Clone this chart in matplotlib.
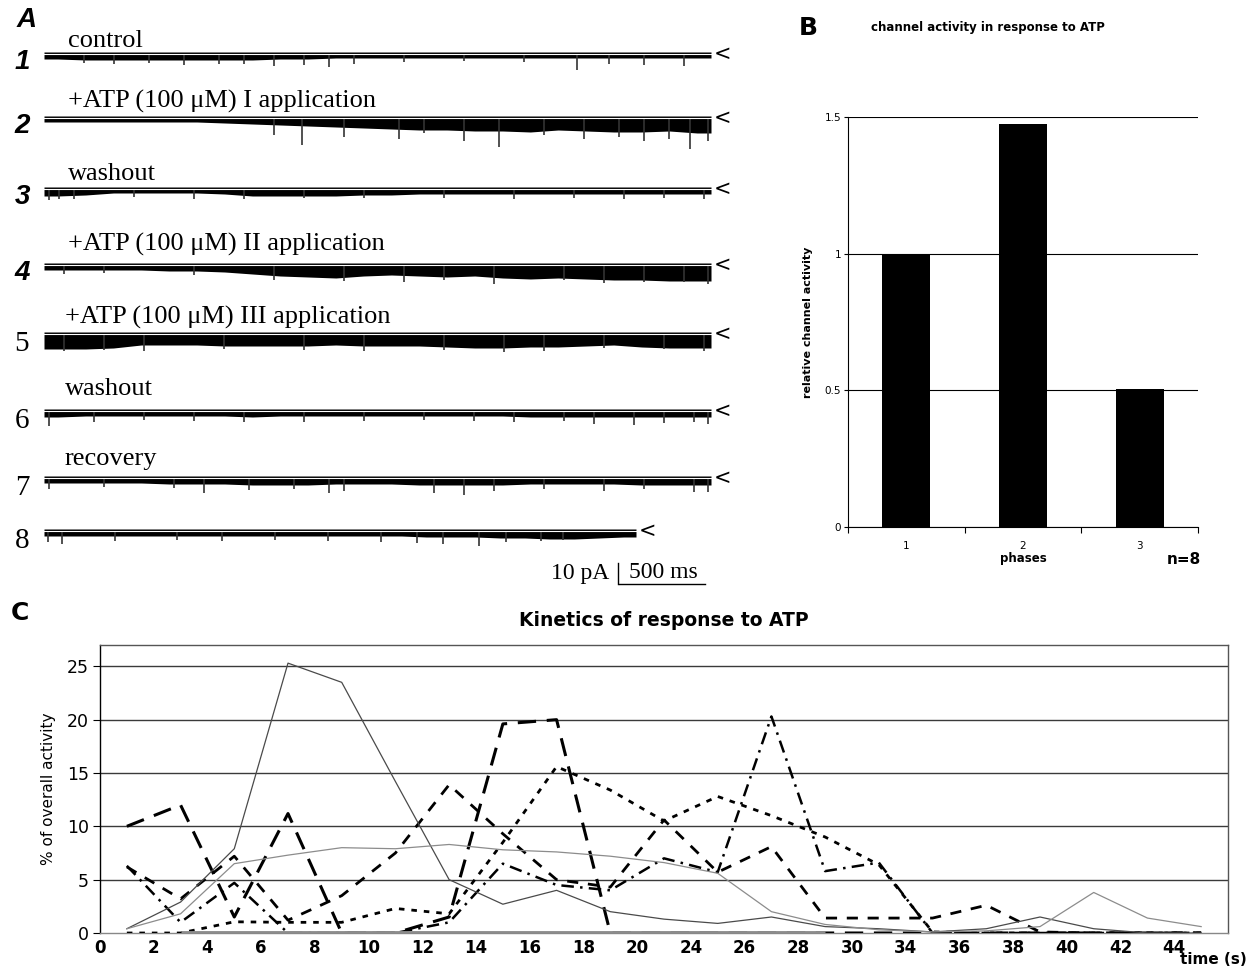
import numpy as np
import matplotlib.pyplot as plt

# ---------------- data ----------------
# panel A: single-channel traces (depth of the opening band in pA-ish px, and deeper spikes)
trace_names = ["control", "+ATP (100 \u03bcM) I application", "washout",
               "+ATP (100 \u03bcM) II application", "+ATP (100 \u03bcM) III application",
               "washout", "recovery", ""]
row_numbers = ["1", "2", "3", "4", "5", "6", "7", "8"]
band_depth = [
    [4, 5, 5, 5, 5, 5, 5, 5, 4, 4, 3, 3, 3, 3, 3, 3, 3, 3, 3, 3, 3, 3, 3, 3],
    [3, 3, 3, 3, 3, 3, 4, 5, 6, 7, 8, 9, 10, 11, 11, 12, 12, 13, 11, 12, 13, 13, 12, 14],
    [6, 5, 3, 3, 3, 3, 4, 6, 6, 6, 6, 5, 5, 4, 4, 4, 4, 4, 4, 4, 4, 4, 4, 4],
    [4, 4, 4, 4, 5, 5, 6, 8, 10, 11, 12, 10, 9, 10, 11, 10, 12, 13, 12, 13, 14, 14, 15, 15],
    [14, 14, 13, 10, 10, 10, 11, 11, 11, 11, 10, 11, 11, 11, 12, 13, 13, 12, 12, 11, 10, 12, 13, 13],
    [5, 4, 4, 4, 4, 4, 4, 5, 4, 4, 4, 4, 4, 4, 4, 4, 4, 5, 5, 5, 5, 5, 5, 5],
    [4, 4, 4, 4, 5, 5, 5, 6, 6, 6, 5, 5, 5, 6, 6, 6, 6, 5, 5, 5, 5, 6, 6, 6],
    [4, 4, 4, 4, 4, 4, 4, 4, 4, 4, 4, 4, 4, 4, 4, 5, 5, 5, 6, 6, 7, 7, 6, 5],
]
spikes = [
    [(40, 8), (70, 9), (105, 8), (140, 10), (175, 9), (200, 9), (230, 11), (260, 10), (285, 12),
     (310, 9), (360, 7), (420, 6), (480, 7), (533, 15), (565, 9), (600, 10), (640, 11)],
    [(230, 16), (258, 26), (300, 18), (355, 20), (380, 14), (420, 22), (455, 28), (500, 16),
     (540, 20), (575, 18), (600, 22), (625, 20), (646, 30), (664, 22)],
    [(5, 10), (15, 9), (30, 9), (90, 7), (150, 9), (200, 9), (260, 8), (320, 8), (400, 8),
     (470, 9), (530, 8), (580, 9), (620, 8), (660, 9)],
    [(20, 8), (60, 7), (150, 9), (230, 14), (300, 15), (360, 16), (400, 14), (450, 18),
     (520, 14), (560, 17), (600, 16), (640, 16), (664, 18)],
    [(20, 16), (60, 15), (100, 16), (180, 14), (260, 15), (320, 16), (400, 15), (460, 17),
     (500, 16), (560, 13), (620, 14), (660, 16)],
    [(5, 14), (50, 10), (100, 8), (150, 9), (200, 10), (260, 10), (320, 9), (380, 8), (430, 9),
     (470, 10), (520, 9), (550, 12), (590, 13), (620, 11), (650, 10), (664, 12)],
    [(5, 10), (60, 8), (130, 9), (160, 14), (205, 11), (250, 10), (285, 14), (300, 12), (390, 14),
     (420, 16), (450, 12), (500, 10), (560, 12), (600, 10), (650, 13), (664, 13)],
    [(5, 10), (20, 12), (80, 9), (150, 8), (200, 9), (260, 8), (320, 9), (380, 10), (420, 11),
     (450, 12), (490, 14), (520, 10), (560, 9), (585, 8)],
]

# panel B
phases = ["1", "2", "3"]
rel_activity = [1.0, 1.474, 0.505]

# panel C (one sample every other category slot)
time_labels = ["0", "2", "4", "6", "8", "10", "12", "14", "16", "18", "20",
               "24", "26", "28", "30", "34", "36", "38", "40", "42", "44"]
cell1 = [0.4, 2.9, 7.9, 25.3, 23.5, 14.2, 5.0, 2.7, 4.0, 2.0, 1.3, 0.9, 1.5, 0.6, 0.4, 0.1, 0.4, 1.5, 0.4, 0.0, 0.0]
cell2 = [0.4, 1.8, 6.5, 7.3, 8.0, 7.9, 8.3, 7.8, 7.6, 7.2, 6.6, 5.6, 2.0, 0.8, 0.3, 0.1, 0.2, 0.6, 3.8, 1.4, 0.6]
cell3 = [10.0, 12.0, 1.5, 11.2, 0, 0, 1.5, 19.6, 20.0, 0, 0, 0, 0, 0, 0, 0, 0, 0, 0, 0, 0]
cell4 = [6.2, 3.2, 7.2, 1.2, 3.5, 7.5, 13.9, 9.3, 5.0, 4.3, 10.6, 5.7, 8.1, 1.4, 1.4, 1.4, 2.6, 0.1, 0, 0, 0]
cell5 = [0, 0, 1.05, 1.0, 1.0, 2.3, 1.8, 8.5, 15.6, 13.4, 10.5, 12.8, 11.0, 9.0, 6.4, 0.1, 0, 0, 0, 0, 0]
cell6 = [6.3, 1.0, 4.7, 0, 0, 0, 1.0, 6.5, 4.5, 4.0, 7.0, 5.7, 20.3, 5.8, 6.6, 0, 0, 0, 0, 0, 0]
cell7 = [np.nan, 0, 0, 0, 0, 0, 0, 0, 0, 0, 0, 0, 0, 0, np.nan, np.nan, np.nan, np.nan, np.nan, np.nan, np.nan]

# ---------------- figure ----------------
fig = plt.figure(figsize=(12.55, 9.68), dpi=100)

# overlay in pixel coordinates for panel A and the panel letters
ov = fig.add_axes([0, 0, 1, 1])
ov.set_xlim(0, 1255)
ov.set_ylim(968, 0)
ov.axis("off")

baselines = [55, 119, 190, 266, 335, 412, 479, 532]
label_y = [41, 101, 174, 244, 317, 389, 459, None]
x0 = 44
ends = [711, 711, 711, 711, 711, 711, 711, 636]
serif = ["Liberation Serif", "DejaVu Serif"]
sans = ["Liberation Sans", "DejaVu Sans"]

for i in range(8):
    base = baselines[i]
    d = np.array(band_depth[i], dtype=float)
    edges = np.linspace(x0, ends[i], len(d) + 1)
    centers = (edges[:-1] + edges[1:]) / 2
    xs = np.concatenate([[x0], centers, [ends[i]]])
    ys = np.concatenate([[d[0]], d, [d[-1]]])
    ov.fill_between(xs, base - 3, base + ys, color="black", lw=0)
    sx = [x0 + s[0] * (ends[i] - x0) / 667 for s in spikes[i]]
    sd = [base + s[1] for s in spikes[i]]
    ov.vlines(sx, base, sd, color="#333333", lw=1.2)
    ov.plot([x0, ends[i]], [base - 1, base - 1], color="white", lw=0.8)
    ov.text(ends[i] + 3, base - 1, "<", fontsize=15, va="center", ha="left", family=["DejaVu Sans"])
    if trace_names[i]:
        ov.text(68 if i < 4 else 65, label_y[i], trace_names[i], fontsize=19, family=serif,
                va="center", ha="left")
    if i < 4:
        ov.text(22, base + 7, row_numbers[i], fontsize=20, fontweight="bold", style="italic",
                ha="center", va="center", family=sans)
    else:
        ov.text(22, base + 9, row_numbers[i], fontsize=21, family=serif, ha="center", va="center")

ov.text(27, 20, "A", fontsize=20, fontweight="bold", style="italic", ha="center", va="center",
        family=sans)
# scale bar
ov.text(580, 574, "10 pA", fontsize=17, family=serif, ha="center", va="center")
ov.plot([618, 618], [563, 584], color="black", lw=1)
ov.plot([619, 705], [584, 584], color="black", lw=1)
ov.text(663, 573, "500 ms", fontsize=17, family=serif, ha="center", va="center")

ov.text(808, 28, "B", fontsize=18, fontweight="bold", ha="center", va="center")
ov.text(20, 613, "C", fontsize=18, fontweight="bold", ha="center", va="center")

# ---------------- panel B ----------------
axb = fig.add_axes([848 / 1255, (968 - 527) / 968, 350 / 1255, 410 / 968])
xb = np.arange(len(phases))
axb.bar(xb, rel_activity, width=0.41, color="black", zorder=3)
axb.set_xlim(-0.5, 2.5)
axb.set_ylim(0, 1.5)
axb.set_yticks([0, 0.5, 1, 1.5])
axb.set_yticklabels(["0", "0.5", "1", "1.5"], fontsize=7.5)
axb.set_xticks(xb)
axb.set_xticklabels(phases, fontsize=7.5)
axb.set_xticks([-0.5, 0.5, 1.5, 2.5], minor=True)
axb.tick_params(axis="x", which="major", length=0, pad=10)
axb.tick_params(axis="x", which="minor", length=4, width=0.8)
axb.tick_params(axis="y", length=3, width=0.8, pad=2)
axb.yaxis.grid(True, color="black", lw=0.8, zorder=0)
for s in ["top", "right"]:
    axb.spines[s].set_visible(False)
axb.spines["left"].set_linewidth(0.8)
axb.spines["bottom"].set_linewidth(0.8)
axb.set_xlabel("phases", fontsize=8.5, fontweight="bold", labelpad=1)
axb.set_ylabel("relative channel activity", fontsize=8, fontweight="bold", labelpad=8)
axb.text(2.38, -0.12, "n=8", fontsize=11, fontweight="bold", ha="center", va="center",
         transform=axb.transData)
fig.text(988 / 1255, 1 - 27 / 968, "channel activity in response to ATP", fontsize=8.5,
         fontweight="bold", ha="center", va="center")

# ---------------- panel C ----------------
axc = fig.add_axes([100 / 1255, (968 - 933) / 968, 1128 / 1255, 288 / 968])
xc = 2 * np.arange(len(cell1)) + 1
axc.plot(xc, cell1, color="#4a4a4a", lw=0.9, zorder=4)
axc.plot(xc, cell2, color="#8c8c8c", lw=0.9, zorder=4)
axc.plot(xc, cell3, color="black", lw=2.2, dashes=(6, 3.5), zorder=3)
axc.plot(xc, cell4, color="black", lw=2.0, dashes=(4, 3.5), zorder=3)
axc.plot(xc, cell5, color="black", lw=2.0, dashes=(2, 2.5), zorder=3)
axc.plot(xc, cell6, color="black", lw=1.8, dashes=(5, 2.5, 1, 2.5), zorder=3)
axc.plot(xc, cell7, color="#8c8c8c", lw=3.5, zorder=5, solid_capstyle="butt")
axc.set_xlim(0, 42)
axc.set_ylim(0, 27)
axc.set_yticks([0, 5, 10, 15, 20, 25])
axc.set_yticklabels(["0", "5", "10", "15", "20", "25"], fontsize=12.5)
axc.set_xticks(np.arange(0, 42, 2))
axc.set_xticklabels(time_labels, fontsize=12, fontweight="bold")
axc.tick_params(axis="x", length=0, pad=4)
axc.tick_params(axis="y", length=5, width=0.8, pad=3)
for v in [5, 10, 15, 20, 25]:
    axc.axhline(v, color="#3a3a3a", lw=1.0, zorder=1)
for s in ["top", "right"]:
    axc.spines[s].set_color("#555555")
    axc.spines[s].set_linewidth(1.0)
axc.spines["left"].set_linewidth(1.0)
axc.spines["bottom"].set_color("#888888")
axc.spines["bottom"].set_linewidth(1.0)
axc.set_ylabel("% of overall activity", fontsize=11, labelpad=8)
axc.set_title("Kinetics of response to ATP", fontsize=13.5, fontweight="bold", pad=14)
fig.text(1213 / 1255, 1 - 960 / 968, "time (s)", fontsize=11, fontweight="bold",
         ha="center", va="center")

fig.savefig("out.png", dpi=100)
